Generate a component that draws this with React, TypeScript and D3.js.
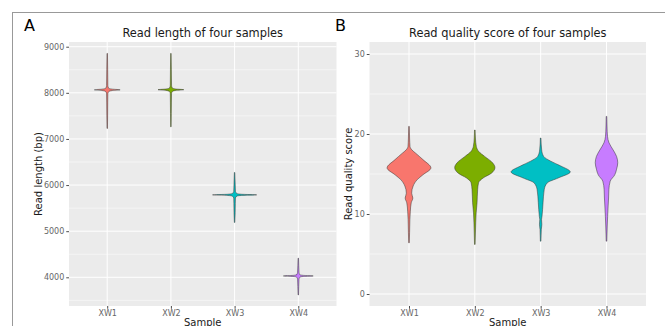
import React, { useEffect, useRef } from 'react';
import * as d3 from 'd3';

const samples = ['XW1', 'XW2', 'XW3', 'XW4'];
const fills = ['#F8766D', '#7CAE00', '#00BFC4', '#C77CFF'];

// read length violins: [length (bp), relative width]
const lenXW1 = [[7228, 0.008], [7500, 0.014], [7800, 0.018], [7980, 0.022], [8030, 0.06], [8050, 0.18], [8065, 0.45], [8080, 0.18], [8100, 0.05], [8160, 0.022], [8500, 0.016], [8855, 0.008]];
const lenXW2 = [[7263, 0.008], [7550, 0.014], [7800, 0.018], [7985, 0.022], [8033, 0.06], [8053, 0.17], [8068, 0.45], [8083, 0.17], [8103, 0.05], [8165, 0.022], [8500, 0.016], [8855, 0.008]];
const lenXW3 = [[5189, 0.008], [5400, 0.02], [5600, 0.025], [5720, 0.03], [5760, 0.08], [5775, 0.24], [5788, 0.77], [5801, 0.24], [5818, 0.08], [5860, 0.03], [6000, 0.022], [6273, 0.008]];
const lenXW4 = [[3618, 0.008], [3800, 0.016], [3960, 0.025], [4005, 0.06], [4018, 0.18], [4030, 0.52], [4042, 0.18], [4058, 0.05], [4110, 0.025], [4250, 0.016], [4414, 0.008]];

// quality violins: [score, relative width]
const qXW1 = [[6.4, 0.01], [7.65, 0.02], [9.3, 0.03], [10.35, 0.045], [11.4, 0.075], [12.0, 0.13], [12.6, 0.09], [13.5, 0.14], [14.3, 0.28], [14.9, 0.47], [15.76, 0.74], [16.8, 0.47], [17.6, 0.225], [18.0, 0.1], [18.45, 0.034], [19.5, 0.02], [20.95, 0.01]];
const qXW2 = [[6.2, 0.01], [8.9, 0.03], [10.15, 0.045], [11.4, 0.075], [13.05, 0.095], [13.9, 0.125], [14.5, 0.28], [15.1, 0.56], [15.8, 0.68], [16.4, 0.6], [17.2, 0.33], [17.8, 0.135], [18.45, 0.05], [19.5, 0.02], [20.5, 0.01]];
const qXW3 = [[6.6, 0.01], [8.07, 0.022], [8.7, 0.04], [9.3, 0.03], [9.7, 0.045], [11.4, 0.08], [13.05, 0.12], [13.9, 0.225], [14.5, 0.59], [15.26, 1.0], [16.0, 0.68], [16.6, 0.34], [17.2, 0.1], [18.0, 0.034], [19.5, 0.01]];
const qXW4 = [[6.6, 0.01], [8.5, 0.025], [9.7, 0.038], [11.0, 0.055], [12.0, 0.07], [13.05, 0.08], [14.1, 0.125], [14.9, 0.28], [15.6, 0.34], [16.4, 0.38], [17.2, 0.34], [18.0, 0.225], [18.9, 0.085], [19.7, 0.034], [21.0, 0.017], [22.2, 0.01]];

const lenTicks = [4000, 5000, 6000, 7000, 8000, 9000];
const lenMinor = [3500, 4500, 5500, 6500, 7500, 8500];
const qTicks = [0, 10, 20, 30];
const qMinor = [5, 15, 25];

const W = 665;
const H = 326;
const font = 'DejaVu Sans, sans-serif';

function drawPanel(svg, opts) {
  const { left, right, top, bottom, domain, ticks, minor, violins, title, ylab, letter, letterX, ytitleX } = opts;
  const x = d3.scalePoint().domain(samples).range([left, right]).padding(0.6);
  const y = d3.scaleLinear().domain(domain).range([bottom, top]);
  const w = d3.scaleLinear().domain([0, 1]).range([0, x.step() * 0.45]);

  const g = svg.append('g');
  g.append('rect').attr('x', left).attr('y', top).attr('width', right - left).attr('height', bottom - top).attr('fill', '#EBEBEB');

  g.selectAll('.minor').data(minor).enter().append('line')
    .attr('x1', left).attr('x2', right).attr('y1', d => y(d)).attr('y2', d => y(d))
    .attr('stroke', '#fff').attr('stroke-width', 0.5);
  g.selectAll('.major').data(ticks).enter().append('line')
    .attr('x1', left).attr('x2', right).attr('y1', d => y(d)).attr('y2', d => y(d))
    .attr('stroke', '#fff').attr('stroke-width', 1);
  g.selectAll('.vgrid').data(samples).enter().append('line')
    .attr('x1', d => x(d)).attr('x2', d => x(d)).attr('y1', top).attr('y2', bottom)
    .attr('stroke', '#fff').attr('stroke-width', 1);

  violins.forEach((pts, i) => {
    const cx = x(samples[i]);
    const area = d3.area()
      .y(d => y(d[0]))
      .x0(d => cx - w(d[1]))
      .x1(d => cx + w(d[1]))
      .curve(d3.curveMonotoneY);
    g.append('path').attr('d', area(pts))
      .attr('fill', fills[i]).attr('stroke', '#333').attr('stroke-width', 0.6).attr('stroke-opacity', 0.85);
  });

  // y axis
  const ya = g.append('g').attr('transform', `translate(${left},0)`)
    .call(d3.axisLeft(y).tickValues(ticks).tickSize(2.75).tickPadding(2).tickFormat(d3.format('d')));
  ya.select('.domain').remove();
  ya.selectAll('line').attr('stroke', '#4d4d4d');
  ya.selectAll('text').attr('fill', '#666').style('font-family', font).style('font-size', '8px');

  // x axis
  const xa = g.append('g').attr('transform', `translate(0,${bottom})`)
    .call(d3.axisBottom(x).tickSize(2.75).tickPadding(2));
  xa.select('.domain').remove();
  xa.selectAll('line').attr('stroke', '#4d4d4d');
  xa.selectAll('text').attr('fill', '#666').style('font-family', font).style('font-size', '8px');

  g.append('text').attr('x', (left + right) / 2).attr('y', 36.5).attr('text-anchor', 'middle')
    .style('font-family', font).style('font-size', '11.4px').attr('fill', '#1a1a1a').text(title);
  g.append('text').attr('x', (left + right) / 2).attr('y', 325.5).attr('text-anchor', 'middle')
    .style('font-family', font).style('font-size', '10px').attr('fill', '#1a1a1a').text('Sample');
  g.append('text').attr('transform', `translate(${ytitleX},${(top + bottom) / 2}) rotate(-90)`).attr('text-anchor', 'middle')
    .style('font-family', font).style('font-size', '10px').attr('fill', '#1a1a1a').text(ylab);
  g.append('text').attr('x', letterX).attr('y', 31).style('font-family', font).style('font-size', '16px')
    .attr('fill', '#000').text(letter);
}

export default function App() {
  const ref = useRef(null);

  useEffect(() => {
    const svg = d3.select(ref.current);
    svg.selectAll('*').remove();
    svg.append('rect').attr('width', W).attr('height', H).attr('fill', '#fff');

    // figure frame
    svg.append('line').attr('x1', 12).attr('x2', W).attr('y1', 12.5).attr('y2', 12.5).attr('stroke', '#999').attr('stroke-width', 1);
    svg.append('line').attr('x1', 12.5).attr('x2', 12.5).attr('y1', 12).attr('y2', H).attr('stroke', '#999').attr('stroke-width', 1);

    drawPanel(svg, {
      left: 69, right: 336.5, top: 42, bottom: 306,
      domain: [3378, 9102], ticks: lenTicks, minor: lenMinor,
      violins: [lenXW1, lenXW2, lenXW3, lenXW4],
      title: 'Read length of four samples', ylab: 'Read length (bp)',
      letter: 'A', letterX: 24, ytitleX: 42,
    });
    drawPanel(svg, {
      left: 369.5, right: 646, top: 42, bottom: 306,
      domain: [-1.5, 31.5], ticks: qTicks, minor: qMinor,
      violins: [qXW1, qXW2, qXW3, qXW4],
      title: 'Read quality score of four samples', ylab: 'Read quality score',
      letter: 'B', letterX: 335, ytitleX: 352,
    });
  }, []);

  return (
    <svg ref={ref} width={W} height={H} style={{ position: 'absolute', left: 0, top: 0 }} />
  );
}
